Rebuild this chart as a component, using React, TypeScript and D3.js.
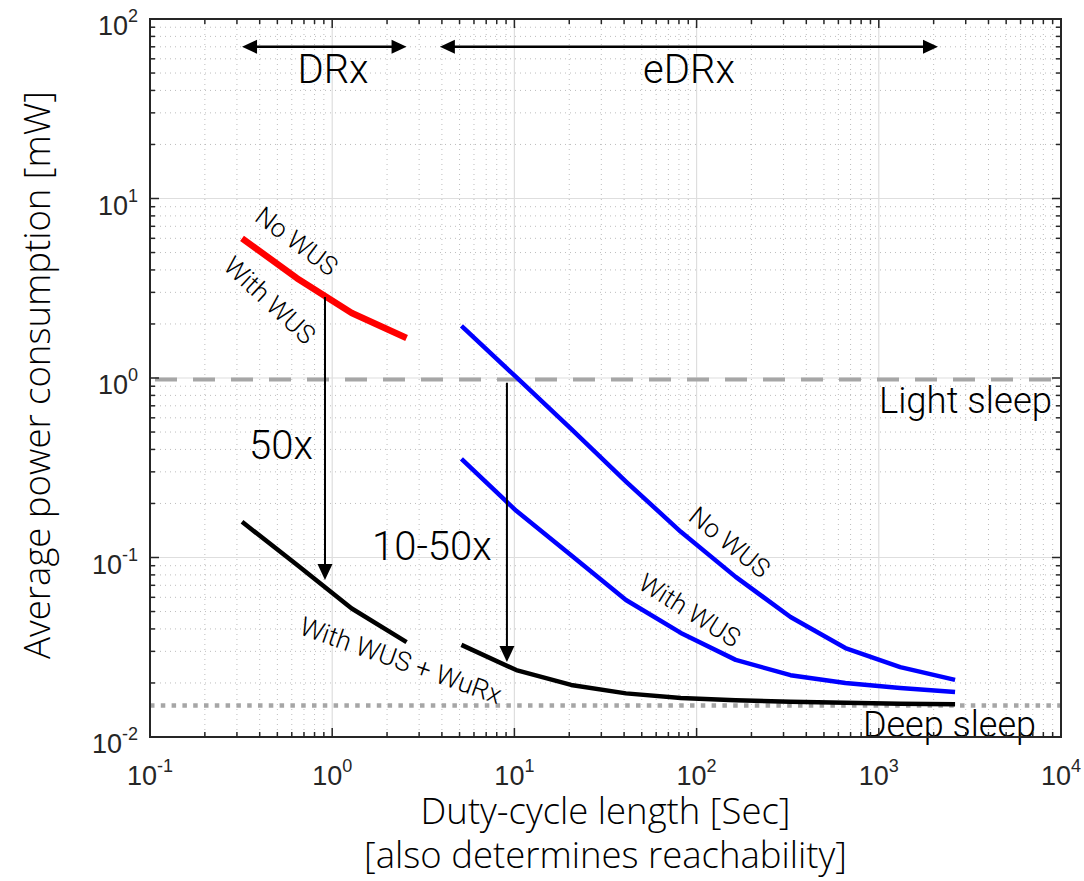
import React from "react";
import * as d3 from "d3";

const drxCycles = [0.32, 0.64, 1.28, 2.56];
const edrxCycles = [5.12, 10.24, 20.48, 40.96, 81.92, 163.84, 327.68, 655.36, 1310.72, 2621.44];
const drxNoWus = [6.0, 3.6, 2.3, 1.67];
const edrxNoWus = [1.95, 1.01, 0.52, 0.265, 0.139, 0.078, 0.0466, 0.0313, 0.0245, 0.0208];
const edrxWithWus = [0.354, 0.182, 0.103, 0.058, 0.038, 0.0269, 0.0221, 0.02, 0.01875, 0.0178];
const drxWuRx = [0.158, 0.091, 0.052, 0.0338];
const edrxWuRx = [0.0326, 0.0236, 0.0195, 0.0175, 0.0165, 0.016, 0.0157, 0.0155, 0.0153, 0.0152];
const lightSleep = 0.98;
const deepSleep = 0.015;
const xTickExps = [-1, 0, 1, 2, 3, 4];
const yTickExps = [-2, -1, 0, 1, 2];

const W = 1084, H = 881;
const L = 150, R = 1061, T = 19, B = 737;

const x = d3.scaleLog().domain([0.1, 1e4]).range([L, R]);
const y = d3.scaleLog().domain([0.01, 100]).range([B, T]);

const line = d3.line<[number, number]>().x(d => x(d[0])).y(d => y(d[1]));
const zip = (xs: number[], ys: number[]) => xs.map((v, i) => [v, ys[i]] as [number, number]);

const minorVals = (lo: number, hi: number) => {
  const out: number[] = [];
  for (let e = lo; e < hi; e++) for (let m = 2; m <= 9; m++) out.push(m * Math.pow(10, e));
  return out;
};
const xMinor = minorVals(-1, 4);
const yMinor = minorVals(-2, 2);

const axisColor = "#262626";
const annFont = "Roboto, 'Liberation Sans', sans-serif";
const titleFont = "'Open Sans', sans-serif";
const tickFont = "'Liberation Sans', Arial, sans-serif";

function Arrowhead({ tipX, tipY, dir, len = 15, half = 7 }: { tipX: number; tipY: number; dir: "left" | "right" | "down"; len?: number; half?: number }) {
  let pts: number[][];
  if (dir === "left") pts = [[tipX, tipY], [tipX + len, tipY - half], [tipX + len, tipY + half]];
  else if (dir === "right") pts = [[tipX, tipY], [tipX - len, tipY - half], [tipX - len, tipY + half]];
  else pts = [[tipX, tipY], [tipX - half, tipY - len], [tipX + half, tipY - len]];
  return <polygon points={pts.map(p => p.join(",")).join(" ")} fill="#000" />;
}

function RotLabel({ cx, cy, angle, size, text }: { cx: number; cy: number; angle: number; size: number; text: string }) {
  return (
    <text transform={`translate(${cx},${cy}) rotate(${angle})`} textAnchor="middle" dy={size * 0.36}
      fontFamily={annFont} fontWeight={300} fontSize={size} fill="#000">{text}</text>
  );
}

export default function App() {
  const arrowY = y(70);
  const a1x = x(0.913);
  const a2x = x(9.1);
  return (
    <svg width={W} height={H} style={{ position: "absolute", left: 0, top: 0, background: "#fff" }}>
      <rect x={0} y={0} width={W} height={H} fill="#fff" />
      {/* minor grid */}
      <g stroke="#bdbdbd" strokeWidth={1} strokeDasharray="1,4">
        {xMinor.map((v, i) => <line key={"xm" + i} x1={x(v)} x2={x(v)} y1={T} y2={B} />)}
        {yMinor.map((v, i) => <line key={"ym" + i} x1={L} x2={R} y1={y(v)} y2={y(v)} />)}
      </g>
      {/* major grid */}
      <g stroke="#dedede" strokeWidth={1.2}>
        {xTickExps.slice(1, -1).map(e => <line key={"xg" + e} x1={x(Math.pow(10, e))} x2={x(Math.pow(10, e))} y1={T} y2={B} />)}
        {yTickExps.slice(1, -1).map(e => <line key={"yg" + e} x1={L} x2={R} y1={y(Math.pow(10, e))} y2={y(Math.pow(10, e))} />)}
      </g>

      {/* reference lines */}
      <line x1={L} x2={R} y1={y(lightSleep)} y2={y(lightSleep)} stroke="#a6a6a6" strokeWidth={4} strokeDasharray="22,16" strokeDashoffset={-5} />
      <line x1={L} x2={R} y1={y(deepSleep)} y2={y(deepSleep)} stroke="#a6a6a6" strokeWidth={4.5} strokeDasharray="4.5,6.3" />

      {/* data lines */}
      <path d={line(zip(drxCycles, drxNoWus)) || ""} fill="none" stroke="#ff0000" strokeWidth={6.5} strokeLinejoin="round" />
      <path d={line(zip(edrxCycles, edrxNoWus)) || ""} fill="none" stroke="#0000ff" strokeWidth={4.5} strokeLinejoin="round" />
      <path d={line(zip(edrxCycles, edrxWithWus)) || ""} fill="none" stroke="#0000ff" strokeWidth={4.5} strokeLinejoin="round" />
      <path d={line(zip(drxCycles, drxWuRx)) || ""} fill="none" stroke="#000" strokeWidth={4.5} strokeLinejoin="round" />
      <path d={line(zip(edrxCycles, edrxWuRx)) || ""} fill="none" stroke="#000" strokeWidth={4.5} strokeLinejoin="round" />

      {/* horizontal double arrows */}
      <line x1={x(0.32) + 10} x2={x(2.56) - 10} y1={arrowY} y2={arrowY} stroke="#000" strokeWidth={2.5} />
      <Arrowhead tipX={x(0.32)} tipY={arrowY} dir="left" />
      <Arrowhead tipX={x(2.56)} tipY={arrowY} dir="right" />
      <line x1={x(3.9) + 10} x2={x(2113) - 10} y1={arrowY} y2={arrowY} stroke="#000" strokeWidth={2.5} />
      <Arrowhead tipX={x(3.9)} tipY={arrowY} dir="left" />
      <Arrowhead tipX={x(2113)} tipY={arrowY} dir="right" />

      {/* vertical arrows */}
      <line x1={a1x} x2={a1x} y1={y(2.83)} y2={y(0.075) - 10} stroke="#000" strokeWidth={2} />
      <Arrowhead tipX={a1x} tipY={y(0.075)} dir="down" len={16} half={7.5} />
      <line x1={a2x} x2={a2x} y1={y(0.94)} y2={y(0.0262) - 10} stroke="#000" strokeWidth={2} />
      <Arrowhead tipX={a2x} tipY={y(0.0262)} dir="down" len={16} half={7.5} />

      {/* annotation texts */}
      <g fontFamily={annFont} fontWeight={300} fill="#000">
        <text x={333} y={83} fontSize={40} textAnchor="middle">DRx</text>
        <text x={689} y={83} fontSize={40} textAnchor="middle">eDRx</text>
        <text x={249} y={459} fontSize={40}>50x</text>
        <text x={372} y={560} fontSize={40}>10-50x</text>
        <text x={1052} y={413} fontSize={36.5} textAnchor="end">Light sleep</text>
        <text x={1036} y={737} fontSize={36} textAnchor="end">Deep sleep</text>
      </g>
      <RotLabel cx={297} cy={241} angle={37} size={26} text="No WUS" />
      <RotLabel cx={270} cy={300} angle={43} size={26} text="With WUS" />
      <RotLabel cx={730} cy={542} angle={39} size={26} text="No WUS" />
      <RotLabel cx={690} cy={610} angle={32} size={26} text="With WUS" />
      <RotLabel cx={401} cy={660} angle={19.5} size={26.5} text="With WUS + WuRx" />

      {/* axes box */}
      <rect x={L} y={T} width={R - L} height={B - T} fill="none" stroke={axisColor} strokeWidth={2} />
      {/* ticks */}
      <g stroke={axisColor} strokeWidth={1.5}>
        {xTickExps.map(e => {
          const px = x(Math.pow(10, e));
          return <g key={"xt" + e}><line x1={px} x2={px} y1={B} y2={B - 9} /><line x1={px} x2={px} y1={T} y2={T + 9} /></g>;
        })}
        {xMinor.map((v, i) => <g key={"xmt" + i}><line x1={x(v)} x2={x(v)} y1={B} y2={B - 5} /><line x1={x(v)} x2={x(v)} y1={T} y2={T + 5} /></g>)}
        {yTickExps.map(e => {
          const py = y(Math.pow(10, e));
          return <g key={"yt" + e}><line x1={L} x2={L + 9} y1={py} y2={py} /><line x1={R} x2={R - 9} y1={py} y2={py} /></g>;
        })}
        {yMinor.map((v, i) => <g key={"ymt" + i}><line x1={L} x2={L + 5} y1={y(v)} y2={y(v)} /><line x1={R} x2={R - 5} y1={y(v)} y2={y(v)} /></g>)}
      </g>
      {/* tick labels */}
      <g fontFamily={tickFont} fill={axisColor}>
        {xTickExps.map(e => (
          <text key={"xl" + e} x={x(Math.pow(10, e))} y={785} textAnchor="middle" fontSize={27}>
            10<tspan dy={-13} fontSize={18}>{String(e)}</tspan>
          </text>
        ))}
        {yTickExps.map(e => (
          <text key={"yl" + e} x={138} y={y(Math.pow(10, e)) + 16} textAnchor="end" fontSize={27}>
            10<tspan dy={-13} fontSize={18}>{String(e)}</tspan>
          </text>
        ))}
      </g>
      {/* axis titles */}
      <g fontFamily={titleFont} fontWeight={300} fill="#000">
        <text x={(L + R) / 2} y={824} textAnchor="middle" fontSize={36.5}>Duty-cycle length [Sec]</text>
        <text x={(L + R) / 2} y={868} textAnchor="middle" fontSize={36.5}>[also determines reachability]</text>
        <text transform={`translate(50,${(T + B) / 2 - 3}) rotate(-90)`} textAnchor="middle" fontSize={36.5}>Average power consumption [mW]</text>
      </g>
    </svg>
  );
}
